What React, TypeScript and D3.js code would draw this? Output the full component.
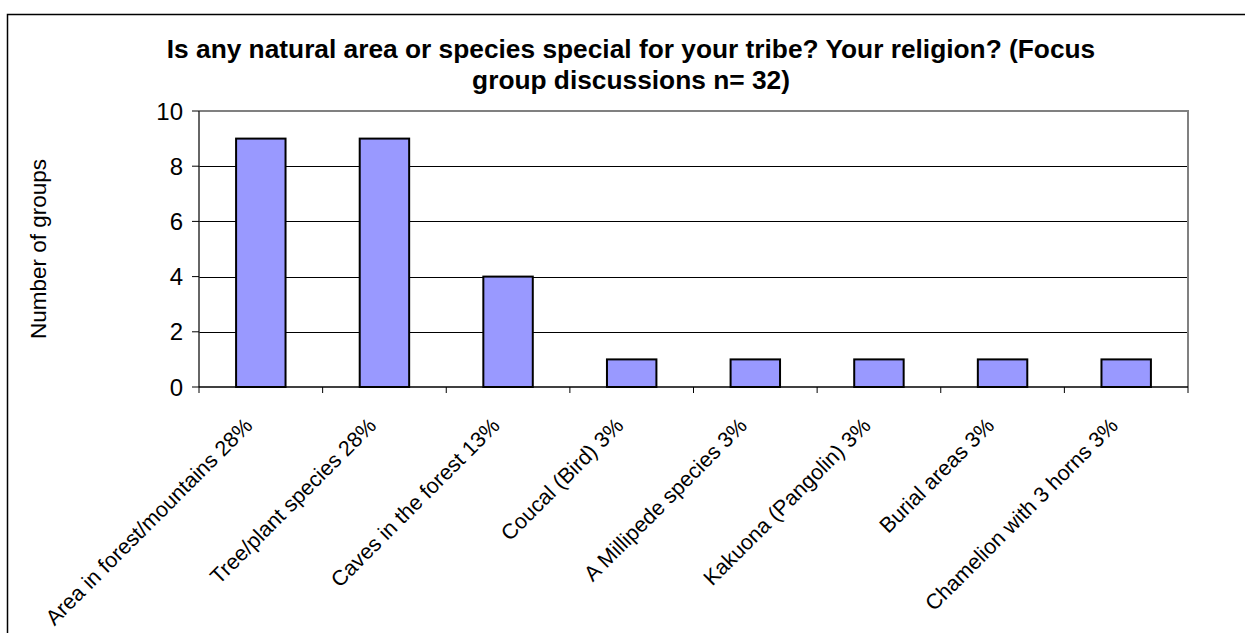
import React from 'react';
import * as d3 from 'd3';

// categories and counts
const categories = [
  'Area in forest/mountains 28%',
  'Tree/plant species 28%',
  'Caves in the forest 13%',
  'Coucal (Bird) 3%',
  'A Millipede species 3%',
  'Kakuona (Pangolin) 3%',
  'Burial areas 3%',
  'Chamelion with 3 horns 3%',
];
const counts = [9, 9, 4, 1, 1, 1, 1, 1];
const yTicks = [0, 2, 4, 6, 8, 10];
const titleLines = [
  'Is any natural area or species special for your tribe? Your religion? (Focus',
  'group discussions n= 32)',
];

const width = 1245;
const height = 633;
const margins = { top: 111, left: 199, right: 57, bottom: 246 };
const font = 'Arial, "Liberation Sans", sans-serif';

const App = () => {
  const plotW = width - margins.left - margins.right;
  const plotH = height - margins.top - margins.bottom;

  const x = d3.scaleBand<string>()
    .domain(categories)
    .range([0, plotW])
    .paddingInner(0.6)
    .paddingOuter(0.3);
  const y = d3.scaleLinear().domain([0, 10]).range([plotH, 0]);
  const step = x.step();

  // category boundaries for the tick marks
  const boundaries = categories.map(c => (x(c) as number) - step * 0.3).concat([plotW]);

  return (
    <svg width={width} height={height} style={{ display: 'block', position: 'absolute', left: 0, top: 0 }}>
      <rect x={0} y={0} width={width} height={height} fill="#fff" />
      <rect x={7.5} y={14.5} width={1260} height={640} fill="none" stroke="#000" strokeWidth={1.5} />

      {/* title */}
      <text x={631} fontFamily={font} fontWeight="bold" fontSize={26.3} textAnchor="middle" fill="#000">
        {titleLines.map((line, i) => (
          <tspan key={i} x={631} y={58 + i * 31}>{line}</tspan>
        ))}
      </text>

      {/* y axis title */}
      <text
        transform={`translate(46,${margins.top + plotH / 2}) rotate(-90)`}
        fontFamily={font} fontSize={22.5} textAnchor="middle" fill="#000"
      >Number of groups</text>

      <g transform={`translate(${margins.left},${margins.top})`}>
        {/* gridlines */}
        {yTicks.filter(t => t > 0 && t < 10).map(t => (
          <line key={t} x1={0} x2={plotW} y1={Math.round(y(t)) + 0.5} y2={Math.round(y(t)) + 0.5} stroke="#000" strokeWidth={1} />
        ))}
        {/* plot border (top/right) */}
        <path d={`M0,${y(10)}H${plotW}V${plotH}`} fill="none" stroke="#808080" strokeWidth={2} />

        {/* bars */}
        {categories.map((c, i) => (
          <rect
            key={c}
            x={x(c)}
            y={y(counts[i])}
            width={x.bandwidth()}
            height={plotH - y(counts[i])}
            fill="#9999FF"
            stroke="#000"
            strokeWidth={2}
          />
        ))}

        {/* y axis */}
        <line x1={0} x2={0} y1={0} y2={plotH} stroke="#333" strokeWidth={1.5} />
        {yTicks.map(t => (
          <g key={t} transform={`translate(0,${y(t)})`}>
            <line x1={-7} x2={0} stroke="#000" strokeWidth={1} />
            <text x={-16} dy="0.36em" fontFamily={font} fontSize={24} textAnchor="end" fill="#000">{t}</text>
          </g>
        ))}

        {/* x axis */}
        <line x1={0} x2={plotW} y1={plotH} y2={plotH} stroke="#000" strokeWidth={1.5} />
        {boundaries.map((b, i) => (
          <line key={i} x1={b} x2={b} y1={plotH} y2={plotH + 6} stroke="#000" strokeWidth={1} />
        ))}
        {categories.map(c => (
          <text
            key={c}
            transform={`translate(${(x(c) as number) + x.bandwidth() / 2 - 7},${plotH + 40}) rotate(-45)`}
            fontFamily={font} fontSize={21.5} textAnchor="end" fill="#000"
          >{c}</text>
        ))}
      </g>
    </svg>
  );
};

export default App;
